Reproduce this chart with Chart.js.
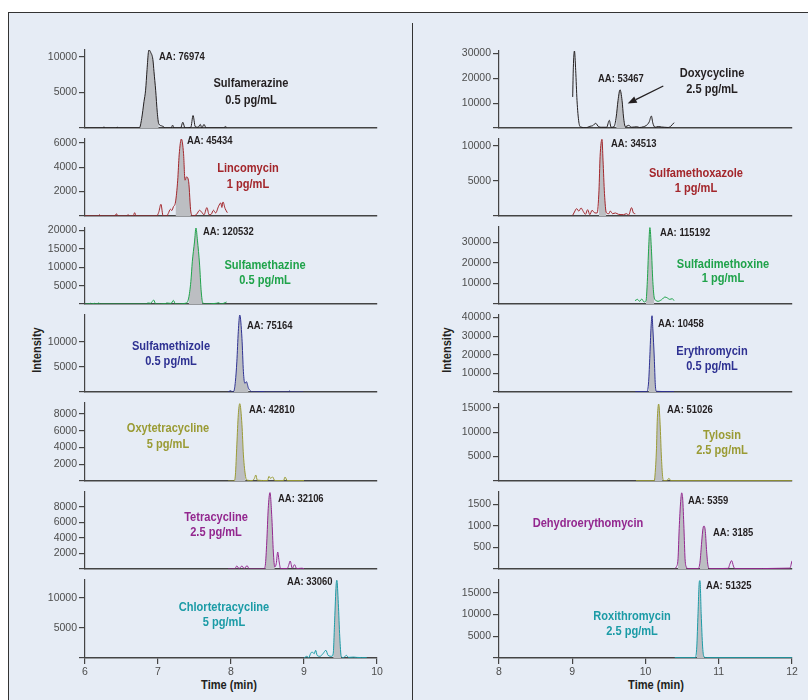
<!DOCTYPE html>
<html><head><meta charset="utf-8">
<script src="https://cdn.jsdelivr.net/npm/chart.js@4.4.1/dist/chart.umd.min.js"></script>
<style>
html,body{margin:0;padding:0;background:#fff;width:808px;height:700px;overflow:hidden;position:relative}
#frame{position:absolute;left:7.5px;top:11.5px;width:801px;height:689px;background:#e6ecf5;border-top:1.5px solid #333;border-left:1.5px solid #333;box-sizing:border-box}
#divider{position:absolute;left:411.5px;top:23px;width:1.5px;height:677px;background:#333}
canvas{position:absolute}
.title{position:absolute;font-family:'Liberation Sans',Arial,sans-serif;font-weight:bold;font-size:13.5px;color:#231f20;white-space:nowrap;transform:translate(-50%,-50%) scaleX(0.82)}
.vtitle{transform:translate(-50%,-50%) rotate(-90deg) scaleX(0.82)}
</style></head>
<body>
<div id="frame"></div>
<div id="divider"></div>
<div class="title" style="left:229px;top:684px">Time (min)</div>
<div class="title" style="left:656px;top:684px">Time (min)</div>
<div class="title vtitle" style="left:36px;top:350px">Intensity</div>
<div class="title vtitle" style="left:446px;top:350px">Intensity</div>
<script>
// ---------- DATA: chromatogram traces [time (min), intensity] ----------
const sulfamerazine = [[6.00,0],[6.24,0],[6.26,150],[6.28,0],[6.42,0],[6.44,120],[6.46,0],[6.745,0],[6.776,1300],[6.808,3700],[6.83,5300],[6.85,8200],[6.868,10600],[6.877,10950],[6.90,10600],[6.93,9600],[6.945,7900],[6.968,5300],[6.99,2200],[7.01,600],[7.05,300],[7.08,150],[7.10,0],[7.18,0],[7.20,400],[7.22,0],[7.31,0],[7.34,800],[7.37,0],[7.45,100],[7.48,1750],[7.51,200],[7.55,100],[7.58,500],[7.60,0],[7.63,500],[7.66,0],[7.90,0],[7.92,200],[7.94,100]];
const lincomycin = [[6.00,0],[6.18,0],[6.20,100],[6.22,0],[6.41,0],[6.43,190],[6.45,0],[6.57,0],[6.59,110],[6.61,0],[6.66,0],[6.68,270],[6.70,0],[6.98,0],[7.01,300],[7.04,960],[7.07,0],[7.12,0],[7.14,200],[7.17,550],[7.19,450],[7.21,740],[7.24,1150],[7.27,2930],[7.29,5000],[7.32,6300],[7.35,5100],[7.37,2930],[7.39,3200],[7.42,2800],[7.45,330],[7.48,0],[7.53,150],[7.57,470],[7.60,300],[7.63,100],[7.67,690],[7.70,100],[7.73,150],[7.76,470],[7.79,250],[7.83,800],[7.86,1070],[7.875,700],[7.89,1150],[7.92,600],[7.95,270]];
const sulfamethazine = [[6.00,0],[6.06,0],[6.07,270],[6.09,0],[6.13,180],[6.15,0],[6.19,270],[6.21,0],[6.84,0],[6.86,270],[6.90,200],[6.94,1080],[6.97,0],[7.10,100],[7.12,270],[7.18,150],[7.21,990],[7.24,0],[7.39,270],[7.42,1620],[7.45,6100],[7.47,11500],[7.50,16900],[7.52,20700],[7.54,17400],[7.57,10600],[7.59,3900],[7.61,540],[7.64,0],[7.80,200],[7.83,360],[7.86,0],[7.94,540]];
const sulfamethizole = [[7.96,0],[7.995,260],[8.02,0],[8.04,200],[8.06,2050],[8.08,6000],[8.10,12000],[8.12,15300],[8.15,10660],[8.17,4040],[8.19,1720],[8.21,2050],[8.24,730],[8.27,200],[8.30,0],[8.44,100],[8.47,0],[8.78,0],[8.80,200],[8.82,0],[8.99,0]];
const oxytetracycline = [[7.96,0],[8.04,0],[8.06,720],[8.08,4320],[8.10,7920],[8.12,9240],[8.15,6720],[8.17,3120],[8.20,520],[8.22,100],[8.29,50],[8.32,300],[8.34,720],[8.36,100],[8.50,50],[8.52,560],[8.54,320],[8.57,480],[8.60,50],[8.72,50],[8.74,480],[8.77,50],[9.00,50]];
const tetracycline = [[7.96,0],[8.05,0],[8.08,390],[8.11,50],[8.15,390],[8.18,50],[8.22,430],[8.25,0],[8.45,0],[8.47,470],[8.49,3480],[8.51,7780],[8.534,9850],[8.56,6490],[8.58,2190],[8.60,260],[8.62,700],[8.64,2190],[8.66,900],[8.68,50],[8.77,50],[8.79,470],[8.81,1030],[8.84,100],[8.87,560],[8.90,50],[8.97,100],[9.00,50]];
const chlortetracycline = [[9.00,0],[9.04,280],[9.065,50],[9.09,720],[9.11,1000],[9.14,720],[9.16,1280],[9.18,440],[9.22,280],[9.26,720],[9.30,1280],[9.33,440],[9.38,280],[9.40,720],[9.42,6280],[9.44,12100],[9.45,12900],[9.47,9050],[9.49,3500],[9.51,280],[9.54,50],[9.58,440],[9.61,100],[9.68,150],[9.72,100],[9.86,50]];
const doxycycline = [[9.006,12500],[9.015,24500],[9.03,31000],[9.047,23200],[9.065,11100],[9.09,2400],[9.115,400],[9.19,100],[9.24,670],[9.28,940],[9.32,1880],[9.36,500],[9.40,300],[9.47,300],[9.506,3090],[9.53,300],[9.57,500],[9.60,4430],[9.625,11100],[9.652,15400],[9.68,11100],[9.70,4430],[9.725,500],[9.77,1070],[9.81,300],[9.88,500],[9.92,200],[9.97,500],[10.01,1000],[10.05,2400],[10.08,4830],[10.10,2000],[10.13,300],[10.175,600],[10.22,400],[10.26,300],[10.31,200],[10.34,600],[10.39,2150]];
const sulfamethoxazole = [[9.006,100],[9.03,570],[9.06,1050],[9.09,700],[9.12,1140],[9.15,650],[9.18,240],[9.21,900],[9.24,200],[9.27,810],[9.31,430],[9.34,430],[9.365,3670],[9.38,8430],[9.406,10900],[9.42,7950],[9.44,3190],[9.465,480],[9.50,330],[9.52,710],[9.55,330],[9.59,430],[9.63,240],[9.70,190],[9.74,330],[9.77,140],[9.81,1190],[9.835,430],[9.86,330]];
const sulfadimethoxine = [[9.857,1610],[9.89,2260],[9.92,1290],[9.95,2420],[9.98,970],[10.007,1610],[10.025,11000],[10.043,27100],[10.06,37100],[10.08,27100],[10.10,11000],[10.12,2900],[10.14,1770],[10.17,1290],[10.22,2100],[10.266,3390],[10.30,2900],[10.33,2260],[10.366,2580],[10.39,1610]];
const erythromycin = [[9.86,180],[10.02,180],[10.043,5700],[10.06,20000],[10.075,34300],[10.089,41000],[10.10,34300],[10.12,18200],[10.134,3900],[10.15,360],[10.39,180]];
const tylosin = [[9.87,70],[10.12,70],[10.13,1230],[10.15,6700],[10.16,12200],[10.18,15750],[10.20,11500],[10.216,5340],[10.234,890],[10.25,70],[10.29,70],[10.32,550],[10.345,70],[12.0,70]];
const dehydroerythromycin = [[10.40,8],[10.42,47],[10.444,240],[10.46,945],[10.48,1570],[10.494,1770],[10.507,1650],[10.525,945],[10.54,240],[10.56,40],[10.58,8],[10.72,8],[10.744,160],[10.767,630],[10.785,945],[10.80,1000],[10.817,870],[10.835,400],[10.853,86],[10.88,8],[11.13,15],[11.15,110],[11.176,195],[11.20,70],[11.22,8],[11.97,20],[12.0,190]];
const roxithromycin = [[10.40,80],[10.68,80],[10.70,2540],[10.717,10200],[10.735,17540],[10.744,17770],[10.76,10200],[10.78,2540],[10.80,230],[10.83,80],[12.0,80]];

// integrated peak windows (start, end time)
const sulfamerazinePeak = [[6.74,7.02]];
const lincomycinPeak = [[7.22,7.46]];
const sulfamethazinePeak = [[7.40,7.62]];
const sulfamethizolePeak = [[8.03,8.26]];
const oxytetracyclinePeak = [[8.04,8.21]];
const tetracyclinePeak = [[8.46,8.605]];
const chlortetracyclinePeak = [[9.395,9.515]];
const doxycyclinePeak = [[9.59,9.73]];
const sulfamethoxazolePeak = [[9.355,9.47]];
const sulfadimethoxinePeak = [[10.007,10.125]];
const erythromycinPeak = [[10.025,10.15]];
const tylosinPeak = [[10.12,10.245]];
const dehydroerythromycinPeak = [[10.43,10.56],[10.73,10.865]];
const roxithromycinPeak = [[10.69,10.80]];

// tick labels
const timeTicksLeft = [6,7,8,9,10];
const timeTicksRight = [8,9,10,11,12];
const ticks5k = [0,5000,10000];
const ticks2kA = [0,2000,4000,6000];
const ticks5kB = [0,5000,10000,15000,20000];
const ticks2kB = [0,2000,4000,6000,8000];
const ticks10kA = [0,10000,20000,30000];
const ticks10kB = [0,10000,20000,30000,40000];
const ticks5kC = [0,5000,10000,15000];
const ticks500 = [0,500,1000,1500];

// ---------- STYLE / LAYOUT ----------
const F = "'Liberation Sans',Arial,sans-serif";
const NARROW = 0.82;
const BLACK='#231f20', RED='#a3262b', GREEN='#1fa34a', NAVY='#2e3192', OLIVE='#9a9b34', PURPLE='#93278f', TEAL='#1b9ba6';
const AXIS='#444', TICKTXT='#4d4d4d', FILL='#bcbec2';
const PADT = 12;
const L = {left:0, width:410, yw:85, padR:33, xmin:6, xmax:10, xticks:timeTicksLeft};
const R = {left:412, width:396, yw:87, padR:16, xmin:8, xmax:12, xticks:timeTicksRight};

const panels = [
 {col:L, top:50, base:128, max:10940, ticks:ticks5k, trace:sulfamerazine, win:sulfamerazinePeak, color:BLACK,
  texts:[['AA: 76974',7.014,10000,'left','aa'],['Sulfamerazine',8.274,6250],['0.5 pg/mL',8.274,3900]]},
 {col:L, top:139, base:216, max:6300, ticks:ticks2kA, trace:lincomycin, win:lincomycinPeak, color:RED,
  texts:[['AA: 45434',7.397,6160,'left','aa'],['Lincomycin',8.233,3943],['1 pg/mL',8.233,2604]]},
 {col:L, top:228, base:304, max:20700, ticks:ticks5kB, trace:sulfamethazine, win:sulfamethazinePeak, color:GREEN,
  texts:[['AA: 120532',7.616,19620,'left','aa'],['Sulfamethazine',8.466,10620],['0.5 pg/mL',8.466,6567]]},
 {col:L, top:315, base:392, max:15300, ticks:ticks5k, trace:sulfamethizole, win:sulfamethizolePeak, color:NAVY,
  texts:[['AA: 75164',8.219,13120,'left','aa'],['Sulfamethizole',7.178,9025],['0.5 pg/mL',7.178,6057]]},
 {col:L, top:403, base:481, max:9320, ticks:ticks2kB, trace:oxytetracycline, win:oxytetracyclinePeak, color:OLIVE,
  texts:[['AA: 42810',8.247,8516,'left','aa'],['Oxytetracycline',7.137,6273],['5 pg/mL',7.137,4402]]},
 {col:L, top:492, base:569, max:9930, ticks:ticks2kB, trace:tetracycline, win:tetracyclinePeak, color:PURPLE,
  texts:[['AA: 32106',8.644,8989,'left','aa'],['Tetracycline',7.795,6706],['2.5 pg/mL',7.795,4694]]},
 {col:L, top:580, base:658, max:12940, ticks:ticks5k, trace:chlortetracycline, win:chlortetracyclinePeak, color:TEAL, bottom:true,
  texts:[['AA: 33060',8.767,12557,'left','aa'],['Chlortetracycline',7.904,8394],['5 pg/mL',7.904,5895]]},

 {col:R, top:51, base:128, max:31000, ticks:ticks10kA, trace:doxycycline, win:doxycyclinePeak, color:BLACK,
  texts:[['AA: 53467',9.352,19607,'left','aa'],['Doxycycline',10.908,22022],['2.5 pg/mL',10.908,15580]],
  arrow:[10.243,16909,9.757,9823]},
 {col:R, top:139, base:216, max:10950, ticks:ticks5k, trace:sulfamethoxazole, win:sulfamethoxazolePeak, color:RED,
  texts:[['AA: 34513',9.529,10193,'left','aa'],['Sulfamethoxazole',10.689,6139],['1 pg/mL',10.689,3997]]},
 {col:R, top:227, base:304, max:37400, ticks:ticks10kA, trace:sulfadimethoxine, win:sulfadimethoxinePeak, color:GREEN,
  texts:[['AA: 115192',10.198,34350,'left','aa'],['Sulfadimethoxine',11.058,19500],['1 pg/mL',11.058,12580]]},
 {col:R, top:315, base:392, max:41400, ticks:ticks10kB, trace:erythromycin, win:erythromycinPeak, color:NAVY,
  texts:[['AA: 10458',10.171,36580,'left','aa'],['Erythromycin',10.908,22120],['0.5 pg/mL',10.908,13710]]},
 {col:R, top:404, base:481, max:15750, ticks:ticks5kC, trace:tylosin, win:tylosinPeak, color:OLIVE,
  texts:[['AA: 51026',10.294,14580,'left','aa'],['Tylosin',11.044,9302],['2.5 pg/mL',11.044,6222]]},
 {col:R, top:492, base:569, max:1790, ticks:ticks500, trace:dehydroerythromycin, win:dehydroerythromycinPeak, color:PURPLE,
  texts:[['AA: 5359',10.58,1586,'left','aa'],['AA: 3185',10.921,836,'left','aa'],['Dehydroerythomycin',9.215,1071]]},
 {col:R, top:580, base:658, max:17920, ticks:ticks5kC, trace:roxithromycin, win:roxithromycinPeak, color:TEAL, bottom:true,
  texts:[['AA: 51325',10.826,16536,'left','aa'],['Roxithromycin',9.816,9687],['2.5 pg/mL',9.816,6158]]}
];

function annot(p){
  return {id:'annot', afterDatasetsDraw(chart){
    const ctx = chart.ctx, xs = chart.scales.x, ys = chart.scales.y;
    ctx.save();
    ctx.textBaseline = 'middle';
    for (const [s, tx, ty, align, kind] of p.texts){
      const aa = kind === 'aa';
      ctx.save();
      ctx.translate(xs.getPixelForValue(tx), ys.getPixelForValue(ty));
      ctx.scale(NARROW, 1);
      ctx.font = (aa ? 'bold 11.5px ' : 'bold 13.5px ') + F;
      ctx.fillStyle = aa ? BLACK : p.color;
      ctx.textAlign = align || 'center';
      ctx.fillText(s, 0, 0);
      ctx.restore();
    }
    if (p.arrow){
      const x1 = xs.getPixelForValue(p.arrow[0]), y1 = ys.getPixelForValue(p.arrow[1]);
      const x2 = xs.getPixelForValue(p.arrow[2]), y2 = ys.getPixelForValue(p.arrow[3]);
      const a = Math.atan2(y2-y1, x2-x1), hl = 9, hw = 3.5;
      const bx = x2 - hl*Math.cos(a), by = y2 - hl*Math.sin(a);
      ctx.strokeStyle = BLACK; ctx.fillStyle = BLACK; ctx.lineWidth = 1.3;
      ctx.beginPath(); ctx.moveTo(x1,y1); ctx.lineTo(bx,by); ctx.stroke();
      ctx.beginPath(); ctx.moveTo(x2,y2);
      ctx.lineTo(bx + hw*Math.sin(a), by - hw*Math.cos(a));
      ctx.lineTo(bx - hw*Math.sin(a), by + hw*Math.cos(a));
      ctx.closePath(); ctx.fill();
    }
    ctx.restore();
  }};
}

panels.forEach(p => {
  const c = p.col;
  const xh = p.bottom ? 26 : 10;
  const h = PADT + (p.base - p.top) + xh;
  const cv = document.createElement('canvas');
  cv.width = c.width; cv.height = h;
  cv.style.left = c.left + 'px'; cv.style.top = (p.top - PADT) + 'px';
  cv.style.width = c.width + 'px'; cv.style.height = h + 'px';
  document.body.appendChild(cv);
  const pts = arr => arr.map(([x,y]) => ({x, y}));
  const datasets = [{data: pts(p.trace), borderColor: p.color, borderWidth: 1, pointRadius: 0, fill: false, cubicInterpolationMode: 'monotone'}];
  p.win.forEach(([a,b]) => datasets.push({
    data: pts(p.trace.filter(([x]) => x >= a && x <= b)), borderWidth: 0, borderColor: 'rgba(0,0,0,0)',
    backgroundColor: FILL, fill: 'origin', pointRadius: 0, cubicInterpolationMode: 'monotone'}));
  new Chart(cv, {
    type: 'line',
    data: {datasets},
    options: {
      responsive: false, animation: false, events: [], devicePixelRatio: 1,
      layout: {padding: {left: 0, right: c.padR, top: PADT, bottom: 0}},
      plugins: {legend: {display: false}, tooltip: {enabled: false}},
      scales: {
        x: {type: 'linear', min: c.xmin, max: c.xmax,
            afterFit: s => { s.height = xh; },
            afterBuildTicks: s => { s.ticks = c.xticks.map(v => ({value: v})); },
            grid: {display: !!p.bottom, drawOnChartArea: false, drawTicks: true, tickLength: 6, color: AXIS, lineWidth: 1.2},
            border: {display: true, color: AXIS, width: 1.5},
            ticks: {display: !!p.bottom, color: TICKTXT, font: {family: F, size: 10.5}, padding: 2, maxRotation: 0, autoSkip: false}},
        y: {min: 0, max: p.max,
            afterFit: s => { s.width = c.yw; },
            afterBuildTicks: s => { s.ticks = p.ticks.map(v => ({value: v})); },
            grid: {drawOnChartArea: false, drawTicks: true, tickLength: 6, color: AXIS, lineWidth: 1.2},
            border: {display: true, color: AXIS, width: 1.2},
            ticks: {color: TICKTXT, font: {family: F, size: 10.5}, padding: 2, callback: v => v === 0 ? '' : String(v)}}
      }
    },
    plugins: [annot(p)]
  });
});
</script>
</body></html>
